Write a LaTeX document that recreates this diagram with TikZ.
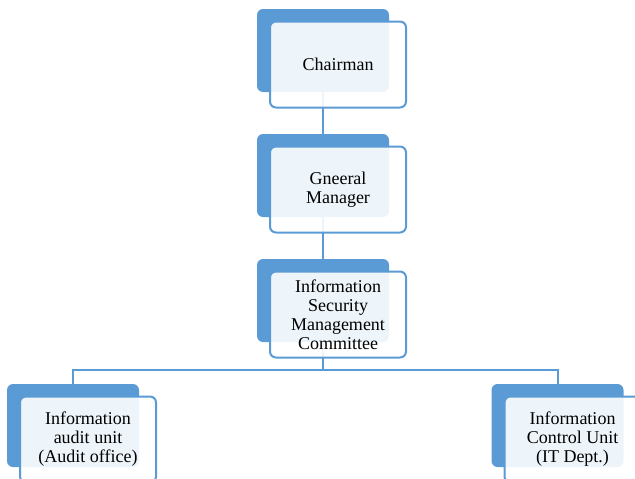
\documentclass[tikz,border=0pt]{standalone}
\usepackage{fontspec}
\setmainfont{Liberation Serif}
\definecolor{boxblue}{HTML}{5B9BD5}
\tikzset{
  backbox/.style={fill=boxblue, rounded corners=6pt, minimum width=132pt, minimum height=83pt, inner sep=0pt},
  frontbox/.style={draw=boxblue, line width=2pt, fill=white, fill opacity=0.9, text opacity=1,
    rounded corners=6pt, minimum width=136pt, minimum height=86pt, inner sep=0pt,
    align=center, font=\fontsize{18}{19}\selectfont},
  link/.style={draw=boxblue, line width=2pt}
}
\begin{document}
\begin{tikzpicture}[x=1pt, y=-1pt]
        \clip (0,0) rectangle (635,479);
        \useasboundingbox (0,0) rectangle (635,479);

        % back boxes
        \node[backbox] (chairB) at (323,50.5) {};
        \node[backbox] (gmB) at (323,175.5) {};
        \node[backbox] (ismcB) at (323,300.5) {};
        \node[backbox] (auditB) at (73,425.5) {};
        \node[backbox] (itB) at (557.5,425.5) {};

        % connectors
        \coordinate (bus) at (323,370);
        \draw[link] (chairB.south) -- (gmB.north);
        \draw[link] (gmB.south) -- (ismcB.north);
        \draw[link] (ismcB.south) -- (bus) -| (auditB.north);
        \draw[link] (bus) -| (itB.north);

        % front boxes
        \node[frontbox] (chair) at ([xshift=15pt,yshift=-14pt]chairB.center) {Chairman};
        \node[frontbox] (gm) at ([xshift=15pt,yshift=-14pt]gmB.center) {Gneeral\\Manager};
        \node[frontbox] (ismc) at ([xshift=15pt,yshift=-14pt]ismcB.center) {Information\\Security\\Management\\Committee};
        \node[frontbox] (audit) at ([xshift=15pt,yshift=-14pt]auditB.center) {Information\\audit unit\\(Audit office)};
        \node[frontbox] (it) at ([xshift=15pt,yshift=-14pt]itB.center) {Information\\Control Unit\\(IT Dept.)};
    \end{tikzpicture}
\end{document}
